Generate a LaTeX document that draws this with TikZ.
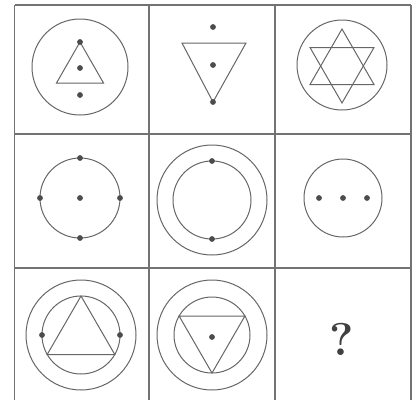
\documentclass[tikz,border=0pt]{standalone}
\begin{document}
\begin{tikzpicture}[x=1pt,y=-1pt,line width=1pt,draw=black!60]
\useasboundingbox (0,0) rectangle (417,400);
% grid
\draw[line width=1.1pt,black!55] (14.5,5) -- (411,5);
\draw[line width=1.1pt,black!55] (14.5,134) -- (411,134);
\draw[line width=1.1pt,black!55] (14.5,268) -- (411,268);
\draw[line width=1.1pt,black!55] (14.5,5) -- (14.5,400);
\draw[line width=1.1pt,black!55] (149,5) -- (149,400);
\draw[line width=1.1pt,black!55] (275,5) -- (275,400);
\draw[line width=1.1pt,black!55] (411,5) -- (411,400);

% row 1
\draw[black!60] (80,67) circle (48);
\draw[black!60] (80,42) -- (56.5,83) -- (103.5,83) -- cycle;
\fill[black!70] (80,42) circle (2.9);
\fill[black!70] (80,68) circle (2.9);
\fill[black!70] (80,95) circle (2.9);

\draw[black!60] (182,43) -- (246,43) -- (213,102) -- cycle;
\fill[black!70] (213,27) circle (2.9);
\fill[black!70] (213,65) circle (2.9);
\fill[black!70] (213,102) circle (2.9);

\draw[black!60] (342,65) circle (45);
\draw[black!60] (342,29) -- (310,84.5) -- (374,84.5) -- cycle;
\draw[black!60] (310,47.5) -- (374,47.5) -- (342,103) -- cycle;

% row 2
\draw[black!60] (80,198) circle (40);
\fill[black!70] (80,158) circle (2.9);
\fill[black!70] (80,238) circle (2.9);
\fill[black!70] (40,198) circle (2.9);
\fill[black!70] (120,198) circle (2.9);
\fill[black!70] (80,198) circle (2.9);

\draw[black!60] (212,200) circle (55);
\draw[black!60] (212,200) circle (39);
\fill[black!70] (212,161) circle (2.9);
\fill[black!70] (212,239) circle (2.9);

\draw[black!60] (343,198) circle (39);
\fill[black!70] (319,198) circle (2.9);
\fill[black!70] (343,198) circle (2.9);
\fill[black!70] (367,198) circle (2.9);

% row 3
\draw[black!60] (81,335) circle (55);
\draw[black!60] (81,335) circle (39);
\draw[black!60] (81,296) -- (47.2,354.5) -- (114.8,354.5) -- cycle;
\fill[black!70] (42,335) circle (2.9);
\fill[black!70] (120,335) circle (2.9);

\draw[black!60] (212,335) circle (55);
\draw[black!60] (212,335) circle (38);
\draw[black!60] (179.1,316) -- (244.9,316) -- (212,373) -- cycle;
\fill[black!70] (212,337) circle (2.9);

\node[text=black!75,font=\fontsize{46}{46}\selectfont\bfseries] (query) at (342,339) {?};
\end{tikzpicture}
\end{document}
